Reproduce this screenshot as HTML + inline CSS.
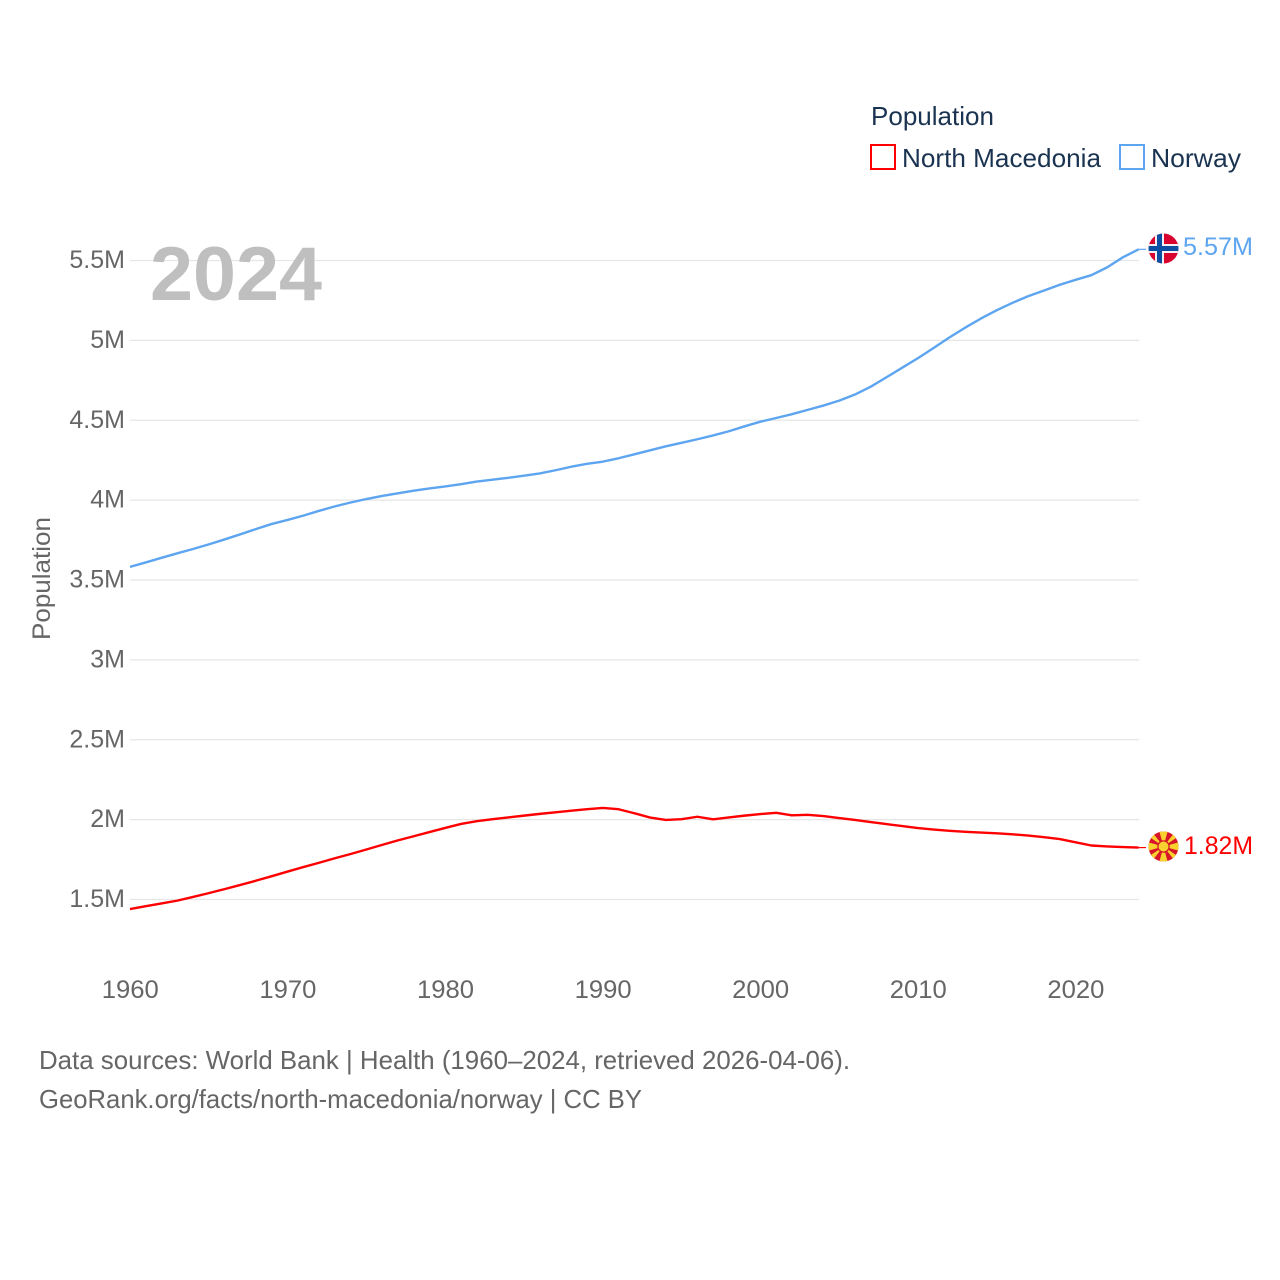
<!DOCTYPE html>
<html lang="en">
<head>
<meta charset="utf-8">
<title>Population: North Macedonia and Norway</title>
<style>
html,body{margin:0;padding:0;background:#fff;}
svg{display:block;font-family:"Liberation Sans",sans-serif;}
</style>
</head>
<body>
<svg id="chart" width="1280" height="1280" viewBox="0 0 1280 1280" xmlns="http://www.w3.org/2000/svg">
  <defs>
    <clipPath id="flag-clip-no"><circle cx="1163.5" cy="248.5" r="15"/></clipPath>
    <clipPath id="flag-clip-mk"><circle cx="1163.5" cy="846.5" r="15"/></clipPath>
  </defs>
  <g id="grid"></g>
  <g id="y-ticks"></g>
  <g id="x-ticks"></g>
  <text transform="translate(50,640) rotate(-90)" font-size="25" fill="#666" textLength="123" lengthAdjust="spacingAndGlyphs">Population</text>
  <text x="150" y="300" font-size="76" font-weight="700" fill="#bfbfbf" textLength="172" lengthAdjust="spacingAndGlyphs">2024</text>

  <g>
    <text x="871" y="125" font-size="26" fill="#1a3350" textLength="123" lengthAdjust="spacingAndGlyphs">Population</text>
    <g>
      <rect x="871" y="145" width="24" height="24" fill="#fff" stroke="#ff0000" stroke-width="2"/>
      <text x="902" y="167" font-size="26" fill="#1a3350" textLength="199" lengthAdjust="spacingAndGlyphs">North Macedonia</text>
    </g>
    <g>
      <rect x="1120" y="145" width="24" height="24" fill="#fff" stroke="#5da5f0" stroke-width="2"/>
      <text x="1151" y="167" font-size="26" fill="#1a3350" textLength="90" lengthAdjust="spacingAndGlyphs">Norway</text>
    </g>
  </g>

  <g id="lines"></g>

  <g clip-path="url(#flag-clip-no)">
    <rect x="1148" y="233" width="31" height="31" fill="#d8042f"/>
    <rect x="1155" y="233" width="9" height="31" fill="#f4f0f2"/>
    <rect x="1148" y="244" width="31" height="9" fill="#f4f0f2"/>
    <rect x="1157" y="233" width="5" height="31" fill="#0b4ea2"/>
    <rect x="1148" y="246" width="31" height="5" fill="#0b4ea2"/>
  </g>
  <text id="end-label-norway" x="1183" y="255" font-size="25" fill="#5da5f0" textLength="70" lengthAdjust="spacingAndGlyphs">5.57M</text>

  <g clip-path="url(#flag-clip-mk)">
    <rect x="1148" y="831" width="31" height="31" fill="#d8142a"/>
    <g fill="#f8d12e">
      <polygon points="1163.5,846.5 1159,830 1168,830"/>
      <polygon points="1163.5,846.5 1159,863 1168,863"/>
      <polygon points="1163.5,846.5 1147,842 1147,851"/>
      <polygon points="1163.5,846.5 1180,842 1180,851"/>
      <polygon points="1163.5,846.5 1148,836 1152,832"/>
      <polygon points="1163.5,846.5 1179,836 1175,832"/>
      <polygon points="1163.5,846.5 1148,857 1152,861"/>
      <polygon points="1163.5,846.5 1179,857 1175,861"/>
    </g>
    <circle cx="1163.5" cy="846.5" r="6.2" fill="#d8142a"/>
    <circle cx="1163.5" cy="846.5" r="5" fill="#f8d12e"/>
  </g>
  <text id="end-label-mk" x="1184" y="854" font-size="25" fill="#ff0000" textLength="69" lengthAdjust="spacingAndGlyphs">1.82M</text>

  <g>
    <text x="39" y="1069" font-size="26" fill="#666" textLength="811" lengthAdjust="spacingAndGlyphs">Data sources: World Bank | Health (1960–2024, retrieved 2026-04-06).</text>
    <text x="39" y="1108" font-size="26" fill="#666" textLength="603" lengthAdjust="spacingAndGlyphs">GeoRank.org/facts/north-macedonia/norway | CC BY</text>
  </g>
</svg>
<script>
const startYear = 1960;
const yTickValues = [1.5, 2, 2.5, 3, 3.5, 4, 4.5, 5, 5.5];
const yTickLabels = ["1.5M", "2M", "2.5M", "3M", "3.5M", "4M", "4.5M", "5M", "5.5M"];
const xTickYears = [1960, 1970, 1980, 1990, 2000, 2010, 2020];
const norwayValues = [3.582,3.610,3.639,3.667,3.694,3.723,3.754,3.786,3.819,3.851,3.876,3.903,3.933,3.961,3.985,4.007,4.026,4.043,4.059,4.073,4.086,4.100,4.116,4.128,4.140,4.153,4.167,4.187,4.209,4.227,4.241,4.262,4.287,4.312,4.337,4.359,4.381,4.405,4.431,4.462,4.491,4.514,4.538,4.565,4.592,4.623,4.661,4.710,4.769,4.829,4.889,4.953,5.019,5.080,5.137,5.189,5.235,5.277,5.312,5.348,5.379,5.408,5.457,5.520,5.570];
const macedoniaValues = [1.440,1.458,1.475,1.493,1.516,1.540,1.565,1.591,1.618,1.646,1.675,1.703,1.730,1.758,1.785,1.813,1.842,1.870,1.896,1.922,1.948,1.973,1.990,2.003,2.014,2.025,2.036,2.046,2.056,2.065,2.073,2.065,2.040,2.013,1.998,2.003,2.018,2.002,2.014,2.025,2.035,2.043,2.027,2.030,2.022,2.010,1.998,1.985,1.972,1.960,1.947,1.938,1.930,1.924,1.919,1.914,1.908,1.900,1.890,1.878,1.858,1.838,1.832,1.828,1.825];

const NS = "http://www.w3.org/2000/svg";
const xScale = function (year) { return 130 + (year - 1960) * 15.76; };
const yScale = function (v) { return 899.5 - (v - 1.5) * 159.75; };

const gridGroup = document.getElementById("grid");
const yGroup = document.getElementById("y-ticks");
const xGroup = document.getElementById("x-ticks");
const lineGroup = document.getElementById("lines");

yTickValues.forEach(function (v, i) {
  const y = yScale(v);
  const g = document.createElementNS(NS, "line");
  g.setAttribute("x1", 130);
  g.setAttribute("x2", 1139);
  g.setAttribute("y1", y);
  g.setAttribute("y2", y);
  g.setAttribute("stroke", "#e6e6e6");
  g.setAttribute("stroke-width", 1.3);
  
  
  gridGroup.appendChild(g);

  const t = document.createElementNS(NS, "text");
  t.setAttribute("x", 125);
  t.setAttribute("y", yScale(v) + 7.6);
  t.setAttribute("text-anchor", "end");
  t.setAttribute("font-size", 25);
  t.setAttribute("fill", "#666");
  t.textContent = yTickLabels[i];
  
  
  yGroup.appendChild(t);
});

xTickYears.forEach(function (yr) {
  const t = document.createElementNS(NS, "text");
  t.setAttribute("x", xScale(yr) + 0.3);
  t.setAttribute("y", 998);
  t.setAttribute("text-anchor", "middle");
  t.setAttribute("font-size", 25);
  t.setAttribute("fill", "#666");
  t.setAttribute("textLength", 57);
  t.setAttribute("lengthAdjust", "spacingAndGlyphs");
  t.textContent = String(yr);
  
  
  xGroup.appendChild(t);
});

function pathFor(values) {
  return values.map(function (v, i) {
    return (i ? "L" : "M") + xScale(startYear + i).toFixed(2) + " " + yScale(v).toFixed(2);
  }).join(" ");
}

function lastY(values) {
  return yScale(values[values.length - 1]);
}

function drawConnector(values, color) {
  const c = document.createElementNS(NS, "line");
  const y = lastY(values);
  c.setAttribute("x1", xScale(startYear + values.length - 1));
  c.setAttribute("x2", 1146);
  c.setAttribute("y1", y);
  c.setAttribute("y2", y);
  c.setAttribute("stroke", color);
  c.setAttribute("stroke-width", 1.2);
  
  
  lineGroup.appendChild(c);
}

function drawSeries(values, color, name) {
  const p = document.createElementNS(NS, "path");
  p.setAttribute("d", pathFor(values));
  p.setAttribute("fill", "none");
  p.setAttribute("stroke", color);
  p.setAttribute("stroke-width", 2.4);
  p.setAttribute("stroke-linejoin", "round");
  
  
  lineGroup.appendChild(p);
  drawConnector(values, color);
}

drawSeries(norwayValues, "#5da5f0", "line-norway");
drawSeries(macedoniaValues, "#ff0000", "line-north-macedonia");
</script>
</body>
</html>
